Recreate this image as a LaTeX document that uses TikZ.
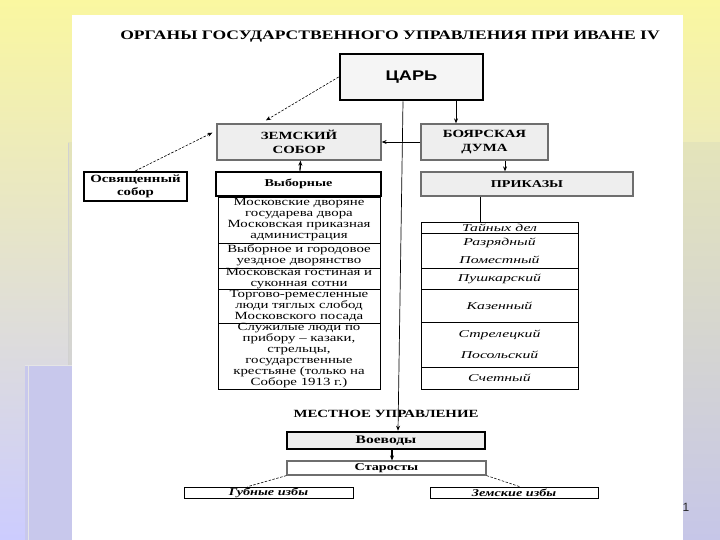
\documentclass[tikz,border=0pt]{standalone}
\usepackage{fontspec}
\setmainfont{Liberation Serif}[FakeStretch=1.35]
\newfontfamily\tsarfont{Liberation Sans}[FakeStretch=1.3]
\newfontfamily\numfont{Liberation Sans}
\usetikzlibrary{arrows.meta,calc}
\definecolor{bgY}{RGB}{250,247,160}
\definecolor{bgL}{RGB}{204,204,255}
\definecolor{pnT}{RGB}{228,228,186}
\definecolor{pnB}{RGB}{198,198,232}
\definecolor{cornerC}{RGB}{200,200,236}
\definecolor{boxfill}{RGB}{238,238,238}
\definecolor{boxedge}{RGB}{110,110,110}
\tikzset{
  thickbox/.style={draw=black,line width=2.8pt,fill=white,inner sep=0pt,align=center},
  greybox/.style={draw=boxedge,line width=1.3pt,fill=boxfill,inner sep=0pt,align=center},
  listrow/.style={draw=black,line width=0.8pt,fill=white,inner sep=0pt,align=center,font=\fontsize{11}{11}\selectfont},
  irow/.style={draw=black,line width=0.8pt,fill=white,inner sep=0pt,align=center,font=\fontsize{10.5}{11}\selectfont\itshape\addfontfeatures{FakeStretch=1.5}},
  thinbox/.style={draw=black,line width=0.7pt,fill=white,inner sep=0pt,align=center},
  arr/.style={-{Stealth[length=5pt,width=4pt]},line width=0.7pt},
  darr/.style={-{Stealth[length=5pt,width=4pt]},line width=0.6pt,dash pattern=on 2.5pt off 1.5pt},
  dln/.style={line width=0.6pt,dash pattern=on 2.5pt off 1.5pt}
}
\begin{document}
\begin{tikzpicture}[x=1pt,y=-1pt]
\useasboundingbox (0,0) rectangle (720,540);
% background
\shade[top color=bgY,bottom color=bgL] (0,0) rectangle (720,540);
\shade[top color=pnT,bottom color=pnB] (68,143) rectangle (720,540);
\draw[color=black!18,line width=1pt] (68,143) -- (68,540);
\fill[cornerC] (25,365) rectangle (72,540);
\draw[color=black!10,line width=1pt] (25,365) -- (72,365) (28,365) -- (28,540);
\fill[white] (72,15) rectangle (683,540);
% title
\node (title) at (390,37) {\fontsize{13}{13}\selectfont\bfseries ОРГАНЫ ГОСУДАРСТВЕННОГО УПРАВЛЕНИЯ ПРИ ИВАНЕ IV};
% top boxes
\node[thickbox,fill=boxfill!60,minimum width=143,minimum height=46] (tsar) at (411.5,77) {\tsarfont\fontsize{14}{14}\selectfont\bfseries ЦАРЬ};
\node[greybox,minimum width=164,minimum height=36,font=\fontsize{11}{13.5}\selectfont\bfseries] (zem) at (299,142) {ЗЕМСКИЙ\\СОБОР};
\node[greybox,minimum width=127,minimum height=36,font=\fontsize{11}{13.5}\selectfont\bfseries] (duma) at (484.5,142) {БОЯРСКАЯ\\ДУМА};
\node[thickbox,line width=2.4pt,minimum width=103,minimum height=29,font=\fontsize{11}{12.5}\selectfont\bfseries] (osv) at (135.5,186.5) {Освященный\\собор};
\node[thickbox,minimum width=165,minimum height=24,font=\fontsize{10.5}{12}\selectfont\bfseries] (vyb) at (298.5,184) {Выборные};
\node[greybox,minimum width=212,minimum height=24,font=\fontsize{10.5}{12}\selectfont\bfseries] (prik) at (527,184) {ПРИКАЗЫ};
% left list
\node[listrow,minimum width=162,minimum height=46] (l1) at (299,220) {Московские дворяне\\государева двора\\Московская приказная\\администрация};
\node[listrow,minimum width=162,minimum height=25] (l2) at (299,255.5) {Выборное и городовое\\уездное дворянство};
\node[listrow,minimum width=162,minimum height=21] (l3) at (299,278.5) {Московская гостиная и\\суконная сотни};
\node[listrow,minimum width=162,minimum height=34] (l4) at (299,306) {Торгово-ремесленные\\люди тяглых слобод\\Московского посада};
\node[listrow,minimum width=162,minimum height=66] (l5) at (299,356) {Служилые люди по\\прибору – казаки,\\стрельцы,\\государственные\\крестьяне (только на\\Соборе 1913 г.)};
% right list
\node[irow,minimum width=157,minimum height=11] (r1) at (499.5,227.5) {Тайных дел};
\node[irow,minimum width=157,minimum height=35] (r2) at (499.5,250.5) {Разрядный\\[7pt]Поместный};
\node[irow,minimum width=157,minimum height=21] (r3) at (499.5,278.5) {Пушкарский};
\node[irow,minimum width=157,minimum height=33] (r4) at (499.5,305.5) {Казенный};
\node[irow,minimum width=157,minimum height=45] (r5) at (499.5,344.5) {Стрелецкий\\[10pt]Посольский};
\node[irow,minimum width=157,minimum height=22] (r6) at (499.5,378) {Счетный};
% local government
\node (mest) at (386,414) {\fontsize{11}{12}\selectfont\bfseries МЕСТНОЕ УПРАВЛЕНИЕ};
\node[thickbox,fill=boxfill,line width=2.6pt,minimum width=198,minimum height=17,font=\fontsize{11.5}{12}\selectfont\bfseries] (voev) at (386,440.5) {Воеводы};
\node[draw=boxedge,line width=1.2pt,fill=white,inner sep=0pt,minimum width=199,minimum height=14,font=\fontsize{10.5}{12}\selectfont\bfseries] (star) at (386.5,468) {Старосты};
\node[thinbox,minimum width=169,minimum height=11,font=\fontsize{10.5}{11}\selectfont\bfseries\itshape] (gub) at (268.5,492.5) {Губные избы};
\node[thinbox,minimum width=168,minimum height=11,font=\fontsize{10.5}{11}\selectfont\bfseries\itshape] (zemi) at (514,492.5) {Земские избы};
\node[font=\numfont\fontsize{12}{12}\selectfont,text=black!85] (pnum) at (686,507) {1};
% connectors
\draw[darr] (tsar.west) -- ($(zem.north west)!0.3!(zem.north east)+(0,-3)$);
\draw[darr] (osv.north) -- ($(zem.north west)!0.25!(zem.south west)+(-4,0)$);
\draw[arr] ([xshift=44.5]tsar.south) -- ([xshift=-28.5]duma.north);
\draw[arr] (duma.west) -- (zem.east);
\draw[arr,line width=1.3pt] ([xshift=1.5]vyb.north) -- ([xshift=1.5]zem.south);
\draw[arr] ([xshift=20.5]duma.south) -- ([xshift=-22]prik.north);
\draw[line width=0.7pt] ([xshift=-47]prik.south) -- ([xshift=-19.5]r1.north);
\draw[arr] ([xshift=-8.5]tsar.south) -- ([xshift=12]voev.north);
\draw[arr,line width=1.3pt] ([xshift=6]voev.south) -- ([xshift=5.5]star.north);
\draw[dln] (star.south west) -- ([xshift=64]gub.north west);
\draw[dln] (star.south east) -- ([xshift=90]zemi.north west);
\end{tikzpicture}
\end{document}
